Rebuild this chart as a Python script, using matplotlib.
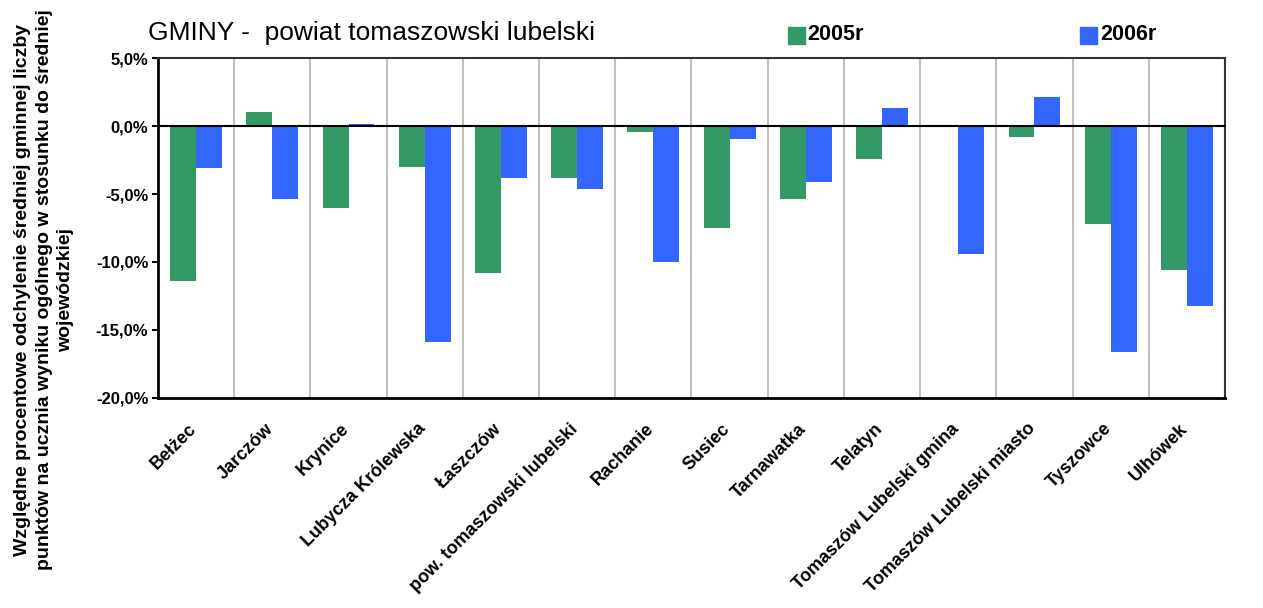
import numpy as np
import matplotlib.pyplot as plt
import matplotlib.transforms as mtransforms
from matplotlib.ticker import FuncFormatter

plt.rcParams['font.family'] = ['Liberation Sans', 'DejaVu Sans']

gminy = ["Bełżec", "Jarczów", "Krynice", "Lubycza Królewska", "Łaszczów",
         "pow. tomaszowski lubelski", "Rachanie", "Susiec", "Tarnawatka",
         "Telatyn", "Tomaszów Lubelski gmina", "Tomaszów Lubelski miasto",
         "Tyszowce", "Ulhówek"]
r2005 = [-11.4, 1.0, -6.0, -3.0, -10.8, -3.8, -0.45, -7.5, -5.4, -2.4, 0.0, -0.8, -7.2, -10.6]
r2006 = [-3.1, -5.4, 0.15, -15.9, -3.8, -4.6, -10.0, -0.95, -4.1, 1.3, -9.4, 2.1, -16.6, -13.2]

green = "#339966"
blue = "#3366FF"

fig = plt.figure(figsize=(12.63, 6.08), dpi=100)
ax = fig.add_axes([0.1251, 0.3454, 0.8448, 0.5592])

x = np.arange(len(gminy))
w = 0.34
ax.bar(x - w/2, r2005, w, color=green, zorder=3)
ax.bar(x + w/2, r2006, w, color=blue, zorder=3)

ax.set_xlim(-0.5, len(gminy) - 0.5)
ax.set_ylim(-20, 5)
ax.set_yticks(np.arange(-20, 5.1, 5))
ax.yaxis.set_major_formatter(FuncFormatter(lambda v, p: f"{v:.1f}%".replace(".", ",")))
for lab in ax.get_yticklabels():
    lab.set_fontweight("bold")
    lab.set_fontsize(12)
ax.tick_params(axis="y", length=4, width=1.5, direction="out", pad=3)

# granice kategorii jako pionowa siatka
ax.set_xticks(np.arange(len(gminy) + 1) - 0.5, minor=True)
ax.grid(True, which="minor", axis="x", color="#c0c0c0", linewidth=1.5, zorder=0)
ax.set_xticks(x)
ax.set_xticklabels(gminy, rotation=45, ha="right", rotation_mode="anchor",
                   fontsize=13, fontweight="bold")
ax.tick_params(axis="x", which="both", length=0, pad=16)
shift = mtransforms.ScaledTranslation(-8/100, 0, fig.dpi_scale_trans)
for lab in ax.get_xticklabels():
    lab.set_transform(lab.get_transform() + shift)

ax.axhline(0, color="black", linewidth=1.5, zorder=4)
for s in ["left", "bottom"]:
    ax.spines[s].set_linewidth(2)
    ax.spines[s].set_color("black")
for s in ["top", "right"]:
    ax.spines[s].set_linewidth(1.5)
    ax.spines[s].set_color("#333333")

fig.text(0.035, 1 - 290/608,
         "Względne procentowe odchylenie średniej gminnej liczby\n"
         "punktów na ucznia wyniku ogólnego w stosunku do średniej\n"
         "wojewódzkiej",
         rotation=90, ha="center", va="center", multialignment="center",
         fontsize=14, fontweight="bold", linespacing=1.35)

fig.text(148/1263, 1 - 33/608, "GMINY -  powiat tomaszowski lubelski",
         fontsize=19, va="center", ha="left")

# legenda
fig.patches.append(plt.Rectangle((788/1263, 1 - 44/608), 17/1263, 17/608,
                                 transform=fig.transFigure, color=green))
fig.text(807/1263, 1 - 34/608, "2005r", fontsize=15.5, fontweight="bold", va="center")
fig.patches.append(plt.Rectangle((1080/1263, 1 - 44/608), 17/1263, 17/608,
                                 transform=fig.transFigure, color=blue))
fig.text(1100/1263, 1 - 34/608, "2006r", fontsize=15.5, fontweight="bold", va="center")

fig.savefig("out.png", dpi=100)
